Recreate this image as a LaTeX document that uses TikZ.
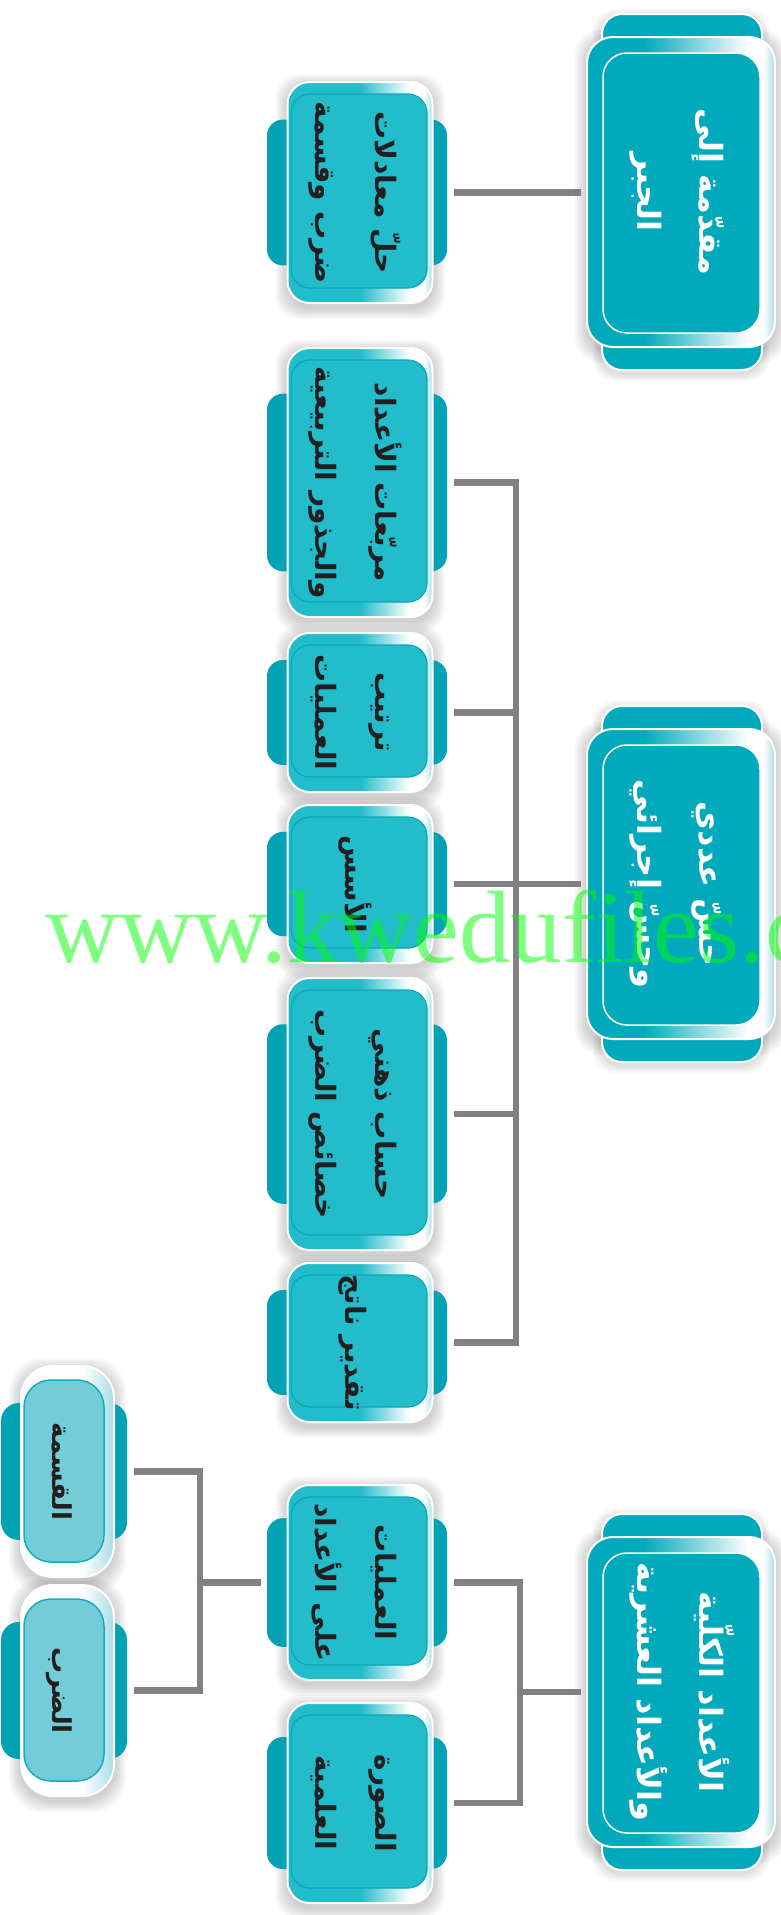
\documentclass[tikz,border=0pt]{standalone}
\usepackage{fontspec}
\usepackage{graphicx}
\newfontfamily\arabicfont[Script=Arabic]{DejaVu Sans}
\newfontfamily\wmfont{Liberation Serif}
\TeXXeTstate=1
\definecolor{rootteal}{HTML}{00A9BB}
\definecolor{midfill}{HTML}{22BCCB}
\definecolor{midline}{HTML}{0BA7B7}
\definecolor{tabteal}{HTML}{00A2B3}
\definecolor{leftfill}{HTML}{74CCD8}
\definecolor{leftline}{HTML}{14ADBE}
\definecolor{conngray}{HTML}{808085}
\definecolor{edgecyan}{HTML}{A8DDE4}
\definecolor{textblack}{HTML}{231F20}
\pgfdeclarehorizontalshading{midglass}{100bp}{color(0bp)=(midfill); color(25bp)=(midfill); color(50bp)=(midfill); color(67bp)=(white); color(72bp)=(white); color(75bp)=(edgecyan); color(100bp)=(edgecyan)}
\pgfdeclarehorizontalshading{rootglass}{100bp}{color(0bp)=(rootteal); color(25bp)=(rootteal); color(40bp)=(rootteal); color(68bp)=(white); color(72bp)=(white); color(75bp)=(edgecyan); color(100bp)=(edgecyan)}
\pgfdeclarehorizontalshading{leftglass}{100bp}{color(0bp)=(white); color(25bp)=(white); color(58bp)=(white); color(75bp)=(edgecyan); color(100bp)=(edgecyan)}
\newcommand\arl[1]{\beginR#1\endR}
\newcommand\artext[1]{\rotatebox{-90}{\begin{tabular}{@{}c@{}}#1\end{tabular}}}
\tikzset{
  conn/.style={draw=conngray, line width=6.5pt},
  namebox/.style={rectangle, inner sep=0pt, outer sep=6.5pt},
  midname/.style={namebox, minimum width=180pt, text=textblack, font=\arabicfont\bfseries\fontsize{28}{60}\selectfont},
  leftname/.style={namebox, minimum width=126pt, text=textblack, font=\arabicfont\bfseries\fontsize{26}{60}\selectfont},
  rootname/.style={namebox, minimum width=188pt, minimum height=310pt, text=white, font=\arabicfont\bfseries\fontsize{32}{62}\selectfont},
  shadowlayer/.style={fill=black, opacity=0.03},
}
\newcommand\mdbox[4]{%
  \begin{scope}[shift={(360,#2)}]
    \foreach \s in {1,...,6} {\fill[shadowlayer, rounded corners=24pt] ({-72.5-2*\s},{-#3/2-2*\s+4}) rectangle ({72.5+2*\s},{#3/2+2*\s+4});}
    \fill[tabteal, rounded corners=16pt] (-93,{-0.33*#3}) rectangle (87,{0.33*#3});
    \shadedraw[shading=midglass, draw=white, line width=2pt, rounded corners=22pt] (-72.5,{-#3/2}) rectangle (72.5,{#3/2});
    \filldraw[fill=midfill, draw=midline, line width=1.2pt, rounded corners=19pt] (-69,{-#3/2+12}) rectangle (67,{#3/2-15});
  \end{scope}
  \node[midname, minimum height=#3pt] (#1) at (357,#2) {\artext{#4}};
}
\newcommand\lfbox[3]{%
  \begin{scope}[shift={(67.5,#2)}]
    \foreach \s in {1,...,6} {\fill[shadowlayer, rounded corners=34pt] ({-46.5-2*\s},{-105.5-2*\s+4}) rectangle ({46.5+2*\s},{105.5+2*\s+4});}
    \fill[tabteal, rounded corners=18pt] (-66.5,-68.5) rectangle (59.5,68.5);
    \shadedraw[shading=leftglass, draw=white, line width=2pt, rounded corners=32pt] (-46.5,-105.5) rectangle (46.5,105.5);
    \filldraw[fill=leftfill, draw=leftline, line width=1.5pt, rounded corners=27pt] (-43.5,-91.5) rectangle (36.5,90.5);
  \end{scope}
  \node[leftname, minimum height=211pt] (#1) at (64,#2) {\artext{#3}};
}
\newcommand\rtbox[3]{%
  \begin{scope}[shift={(681,#2)}]
    \foreach \s in {1,...,6} {\fill[shadowlayer, rounded corners=26pt] ({-94-2*\s},{-155-2*\s+4}) rectangle ({94+2*\s},{155+2*\s+4});}
    \foreach \s in {1,...,4} {\fill[shadowlayer, rounded corners=22pt] ({-80-2*\s},{-178-2*\s+3}) rectangle ({80+2*\s},{178+2*\s+3});}
    \filldraw[fill=rootteal, draw=white, line width=2pt, rounded corners=20pt] (-79,-178) rectangle (81,178);
    \shadedraw[shading=rootglass, draw=white, line width=2pt, rounded corners=26pt] (-94,-155) rectangle (94,155);
    \filldraw[fill=rootteal, draw=white, line width=1.5pt, rounded corners=24pt] (-78,-139) rectangle (79,141);
  \end{scope}
  \node[rootname] (#1) at (681,#2) {\artext{#3}};
}
\begin{document}
\begin{tikzpicture}[x=1pt, y=-1pt]
\useasboundingbox (0,0) rectangle (781,1915);
\fill[white] (0,0) rectangle (781,1915);

% root column
\rtbox{root1}{192}{\arl{مقدّمة إلى}\\\arl{الجبر}}
\rtbox{root2}{884}{\arl{حسّ عددي}\\\arl{وحسّ إجرائي}}
\rtbox{root3}{1692}{\arl{الأعداد الكلّية}\\\arl{والأعداد العشرية}}

% middle column
\mdbox{hal}{192.5}{221}{\arl{حلّ معادلات}\\\arl{ضرب وقسمة}}
\mdbox{murab}{482.5}{269}{\arl{مربّعات الأعداد}\\\arl{والجذور التربيعية}}
\mdbox{tartib}{712.5}{159}{\arl{ترتيب}\\\arl{العمليات}}
\mdbox{usus}{884}{158}{\arl{الأسس}}
\mdbox{hisab}{1114}{272}{\arl{حساب ذهني}\\\arl{خصائص الضرب}}
\mdbox{taqdir}{1342.5}{159}{\arl{تقدير ناتج}}
\mdbox{amal}{1582.5}{195}{\arl{العمليات}\\\arl{على الأعداد}}
\mdbox{sura}{1803}{200}{\arl{الصورة}\\\arl{العلمية}}

% left column
\lfbox{qisma}{1471.5}{\arl{القسمة}}
\lfbox{darb}{1690.5}{\arl{الضرب}}

% connectors
\coordinate (bus2) at (516,884);
\coordinate (bus3) at (520,1692);
\coordinate (bus4) at (200,1582.5);
\draw[conn] (hal.east) -- (hal.east -| root1.west);
\draw[conn] (murab.east) -| (bus2 |- taqdir.east) -- (taqdir.east);
\draw[conn] (tartib.east) -- (tartib.east -| bus2);
\draw[conn] (usus.east) -- (usus.east -| root2.west);
\draw[conn] (hisab.east) -- (hisab.east -| bus2);
\draw[conn] (amal.east) -| (bus3 |- sura.east) -- (sura.east);
\draw[conn] (bus3) -- (bus3 -| root3.west);
\draw[conn] (qisma.east) -| (bus4 |- darb.east) -- (darb.east);
\draw[conn] (bus4) -- (bus4 -| amal.west);

% watermark
\node[anchor=base west, inner sep=0pt, font=\wmfont\fontsize{103}{103}\selectfont, text=green, opacity=0.5] (wm) at (45,962) {www.kwedufiles.com};
\end{tikzpicture}
\end{document}
